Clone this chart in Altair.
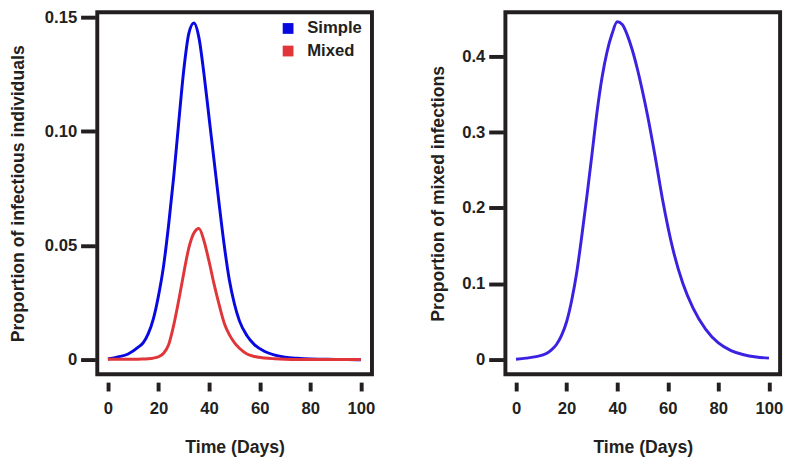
import altair as alt
import pandas as pd

days = [0, 4, 8, 12, 14, 16, 18, 20, 22, 24, 26, 28, 30, 32, 34, 36, 38, 40, 42, 44,
        46, 48, 50, 52, 55, 58, 62, 66, 70, 75, 80, 85, 90, 95, 100]

simple = [0.0003, 0.0012, 0.0025, 0.0055, 0.0075, 0.0115, 0.018, 0.028, 0.041, 0.059,
          0.080, 0.104, 0.127, 0.143, 0.1475, 0.141, 0.125, 0.106, 0.087, 0.068,
          0.050, 0.035, 0.0245, 0.017, 0.0105, 0.0065, 0.0036, 0.002, 0.0011, 0.0006,
          0.0003, 0.0002, 0.0001, 0.0001, 0.0]

mixed = [0.0002, 0.0002, 0.0002, 0.0002, 0.0003, 0.0004, 0.0007, 0.0013, 0.0028, 0.0065,
         0.015, 0.026, 0.038, 0.049, 0.0555, 0.0575, 0.052, 0.043, 0.033, 0.024,
         0.016, 0.011, 0.0075, 0.005, 0.0025, 0.0014, 0.0007, 0.0004, 0.0002, 0.0001,
         0.0001, 0.0001, 0.0001, 0.0001, 0.0001]

mixed_prop = [0.0005, 0.002, 0.004, 0.008, 0.013, 0.020, 0.032, 0.050, 0.078, 0.115,
              0.163, 0.215, 0.270, 0.326, 0.372, 0.406, 0.430, 0.4455, 0.442, 0.428,
              0.408, 0.383, 0.354, 0.322, 0.268, 0.210, 0.146, 0.100, 0.068, 0.040,
              0.022, 0.012, 0.0065, 0.0035, 0.002]

series_names = ["Simple", "Mixed"]
series_colors = ["#0808e0", "#e0363a"]

left_df = pd.DataFrame({
    "day": days * 2,
    "value": simple + mixed,
    "series": ["Simple"] * len(days) + ["Mixed"] * len(days),
})
right_df = pd.DataFrame({"day": days, "value": mixed_prop})

DARK = "#231f20"
FONT = "Liberation Sans"

x_axis = alt.Axis(values=[0, 20, 40, 60, 80, 100], offset=8, tickSize=9,
                  labelPadding=10, title="Time (Days)",
                  titleBaseline="alphabetic", titleY=72)
x_scale = alt.Scale(domain=[-4.2, 104.4], nice=False, zero=False)

left = alt.Chart(left_df).mark_line(strokeWidth=3, interpolate="monotone").encode(
    x=alt.X("day:Q", scale=x_scale, axis=x_axis),
    y=alt.Y("value:Q",
            scale=alt.Scale(domain=[-0.0064, 0.1522], nice=False, zero=False),
            axis=alt.Axis(values=[0, 0.05, 0.10, 0.15], offset=2, tickSize=15,
                          labelPadding=4,
                          labelExpr="datum.value == 0 ? '0' : format(datum.value, '.2f')",
                          title="Proportion of infectious individuals",
                          titleBaseline="middle", titleX=-78)),
    color=alt.Color("series:N",
                    scale=alt.Scale(domain=series_names, range=series_colors),
                    legend=alt.Legend(orient="none", legendX=186, legendY=8,
                                      title=None, symbolType="square",
                                      symbolSize=30, symbolStrokeWidth=5.5,
                                      labelFont=FONT, labelFontWeight="bold",
                                      labelFontSize=17, labelColor=DARK,
                                      labelOffset=11, rowPadding=-10, padding=0)),
).properties(width=280, height=369)

right = alt.Chart(right_df).mark_line(strokeWidth=3, interpolate="monotone",
                                      color="#3b22e0").encode(
    x=alt.X("day:Q", scale=x_scale, axis=x_axis),
    y=alt.Y("value:Q",
            scale=alt.Scale(domain=[-0.0193, 0.4581], nice=False, zero=False),
            axis=alt.Axis(values=[0, 0.1, 0.2, 0.3, 0.4], offset=2, tickSize=15,
                          labelPadding=4,
                          labelExpr="datum.value == 0 ? '0' : format(datum.value, '.1f')",
                          title="Proportion of mixed infections",
                          titleBaseline="middle", titleX=-66)),
).properties(width=280, height=369)

chart = alt.hconcat(left, right, spacing=52).properties(
    padding={"top": -6, "left": 0, "right": 0, "bottom": -3}
).configure_view(
    stroke=DARK, strokeWidth=4
).configure_axis(
    domain=False, grid=False, tickColor=DARK, tickWidth=4,
    labelFont=FONT, labelFontWeight="bold", labelFontSize=17, labelColor=DARK,
    titleFont=FONT, titleFontWeight="bold", titleFontSize=18, titleColor=DARK,
)

chart.save("out.html", embed_options={"renderer": "svg", "actions": False})
